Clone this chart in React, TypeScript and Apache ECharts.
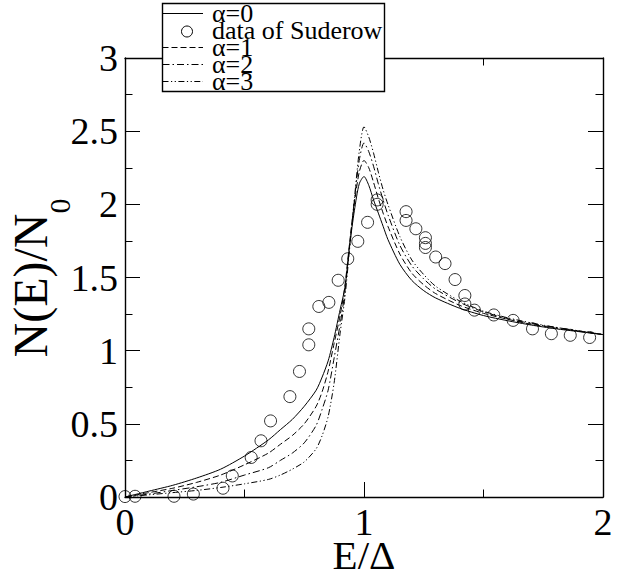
import React, { useEffect, useRef } from "react";
import * as echarts from "echarts";

const curveX = [0, 0.1, 0.2, 0.3, 0.4, 0.5, 0.6, 0.65, 0.7, 0.75, 0.8, 0.825, 0.85, 0.875, 0.9, 0.92, 0.94, 0.96, 0.98, 1.0, 1.02, 1.04, 1.06, 1.08, 1.1, 1.15, 1.2, 1.25, 1.3, 1.4, 1.5, 1.6, 1.7, 1.8, 1.9, 2.0];
const alpha0 = [0, 0.04, 0.08, 0.13, 0.19, 0.28, 0.39, 0.46, 0.53, 0.62, 0.73, 0.82, 0.93, 1.09, 1.28, 1.43, 1.72, 1.96, 2.14, 2.19, 2.13, 2.03, 1.94, 1.85, 1.76, 1.59, 1.48, 1.41, 1.36, 1.29, 1.24, 1.205, 1.175, 1.15, 1.13, 1.11];
const alpha1 = [0, 0.03, 0.06, 0.1, 0.15, 0.22, 0.3, 0.36, 0.42, 0.5, 0.62, 0.72, 0.86, 1.05, 1.24, 1.44, 1.74, 2.01, 2.22, 2.3, 2.25, 2.15, 2.04, 1.94, 1.85, 1.66, 1.53, 1.45, 1.39, 1.31, 1.255, 1.215, 1.18, 1.155, 1.132, 1.11];
const alpha2 = [0, 0.02, 0.045, 0.07, 0.1, 0.15, 0.2, 0.25, 0.3, 0.37, 0.49, 0.6, 0.73, 0.95, 1.18, 1.4, 1.72, 2.03, 2.3, 2.42, 2.36, 2.26, 2.14, 2.03, 1.93, 1.72, 1.58, 1.49, 1.42, 1.33, 1.265, 1.22, 1.185, 1.16, 1.135, 1.11];
const alpha3 = [0, 0.015, 0.03, 0.045, 0.065, 0.09, 0.12, 0.15, 0.19, 0.24, 0.33, 0.42, 0.55, 0.78, 1.12, 1.36, 1.7, 2.04, 2.36, 2.53, 2.46, 2.35, 2.22, 2.1, 2.0, 1.78, 1.62, 1.52, 1.44, 1.34, 1.27, 1.225, 1.19, 1.16, 1.135, 1.11];

const suderowX = [0, 0.042, 0.205, 0.286, 0.41, 0.449, 0.528, 0.569, 0.609, 0.69, 0.73, 0.769, 0.769, 0.811, 0.853, 0.892, 0.932, 0.974, 1.015, 1.055, 1.055, 1.176, 1.176, 1.217, 1.257, 1.257, 1.257, 1.3, 1.339, 1.381, 1.422, 1.422, 1.462, 1.543, 1.624, 1.705, 1.784, 1.863, 1.944];
const suderowY = [0.003, 0.005, 0.005, 0.02, 0.06, 0.144, 0.27, 0.384, 0.52, 0.686, 0.858, 1.04, 1.149, 1.302, 1.33, 1.481, 1.628, 1.747, 1.877, 2.0, 2.03, 1.89, 1.95, 1.833, 1.772, 1.733, 1.705, 1.64, 1.595, 1.486, 1.377, 1.319, 1.277, 1.244, 1.207, 1.149, 1.116, 1.105, 1.09];

const legendLabels = ["α=0", "data of Suderow", "α=1", "α=2", "α=3"];
const yTitleMain = "N(E)/N";
const yTitleSub = "0";
const xTitle = "E/Δ";

const FONT = '"Liberation Serif", "Times New Roman", serif';

const dashes: any = {
  solid: "solid",
  dashed: [6, 3],
  dashDot: [7, 3, 1.5, 3],
  dashDotDot: [6, 2.5, 1.2, 2.5, 1.2, 2.5],
};

function pairs(xs: number[], ys: number[]) {
  return xs.map((x, i) => [x, ys[i]]);
}

export default function App() {
  const ref = useRef<HTMLDivElement>(null);
  useEffect(() => {
    if (!ref.current) return;
    const chart = echarts.init(ref.current, null, { renderer: "svg" });
    const axisCommon = {
      axisLine: { show: true, onZero: false, lineStyle: { color: "#000", width: 1.4 } },
      axisTick: { show: true, inside: true, length: 15, lineStyle: { color: "#000", width: 1 } },
      minorTick: { show: true, splitNumber: 2, length: 7.5, lineStyle: { color: "#000", width: 1 } },
      splitLine: { show: false },
      minorSplitLine: { show: false },
    };
    const lineSeries = (name: string, ys: number[], type: any) => ({
      name,
      type: "line",
      xAxisIndex: 0,
      yAxisIndex: 0,
      data: pairs(curveX, ys),
      showSymbol: false,
      symbol: "none",
      smooth: 0.25,
      lineStyle: { color: "#000", width: 1, type },
      z: 3,
    });
    const legendX = 162.5;
    const legendRows = [13.5, 30.5, 47.5, 64.5, 81.5];
    const legendStyles = [dashes.solid, null, dashes.dashed, dashes.dashDot, dashes.dashDotDot];
    const legendChildren: any[] = [
      {
        type: "rect",
        shape: { x: legendX, y: 3.5, width: 222, height: 88 },
        style: { fill: "#fff", stroke: "#000", lineWidth: 1.4 },
        z: 100,
      },
    ];
    legendRows.forEach((ry, i) => {
      const st = legendStyles[i];
      if (st === null) {
        legendChildren.push({
          type: "circle",
          shape: { cx: 187, cy: ry + 1, r: 5.5 },
          style: { fill: "none", stroke: "#000", lineWidth: 1 },
          z: 101,
        });
      } else {
        legendChildren.push({
          type: "line",
          shape: { x1: legendX, y1: ry, x2: 203, y2: ry },
          style: { stroke: "#000", lineWidth: 1, lineDash: st === "solid" ? null : st },
          z: 101,
        });
      }
      legendChildren.push({
        type: "text",
        x: 212,
        y: ry,
        style: {
          text: legendLabels[i],
          font: `26px ${FONT}`,
          lineHeight: 16,
          fill: "#000",
          textAlign: "left",
          verticalAlign: "middle",
        },
        z: 102,
      });
    });

    const yTitle = {
      type: "group",
      x: 47,
      y: 278,
      rotation: Math.PI / 2,
      children: [
        {
          type: "text",
          x: -79.5,
          y: -16.2,
          style: { text: yTitleMain, font: `48px ${FONT}`, fill: "#000", textAlign: "left", verticalAlign: "middle" },
        },
        {
          type: "text",
          x: 64.5,
          y: 12.7,
          style: { text: yTitleSub, font: `30px ${FONT}`, fill: "#000", textAlign: "left", verticalAlign: "middle" },
        },
      ],
    };

    chart.setOption({
      animation: false,
      backgroundColor: "#fff",
      textStyle: { fontFamily: FONT },
      grid: { left: 125, right: 18, top: 58, bottom: 79, containLabel: false, outerBoundsMode: "none" },
      xAxis: [
        {
          type: "value",
          position: "bottom",
          min: 0,
          max: 2,
          interval: 1,
          ...axisCommon,
          axisLabel: { show: true, color: "#000", fontSize: 38, lineHeight: 30, fontFamily: FONT, margin: 10 },
          name: xTitle,
          nameLocation: "middle",
          nameGap: 41.5,
          nameMoveOverlap: false,
          nameTextStyle: { color: "#000", fontSize: 41, lineHeight: 32, fontFamily: FONT },
        },
        {
          type: "value",
          position: "top",
          min: 0,
          max: 2,
          interval: 1,
          ...axisCommon,
          axisLabel: { show: false },
        },
      ],
      yAxis: [
        {
          type: "value",
          position: "left",
          min: 0,
          max: 3,
          interval: 0.5,
          ...axisCommon,
          axisLabel: { show: true, color: "#000", fontSize: 38, fontFamily: FONT, margin: 7 },
        },
        {
          type: "value",
          position: "right",
          min: 0,
          max: 3,
          interval: 0.5,
          ...axisCommon,
          axisLabel: { show: false },
        },
      ],
      series: [
        lineSeries("α=0", alpha0, dashes.solid),
        {
          name: "data of Suderow",
          type: "scatter",
          xAxisIndex: 0,
          yAxisIndex: 0,
          data: pairs(suderowX, suderowY),
          symbol: "circle",
          symbolSize: 12,
          itemStyle: { color: "rgba(0,0,0,0)", borderColor: "#000", borderWidth: 1 },
          clip: false,
          z: 4,
        },
        lineSeries("α=1", alpha1, dashes.dashed),
        lineSeries("α=2", alpha2, dashes.dashDot),
        lineSeries("α=3", alpha3, dashes.dashDotDot),
      ],
      graphic: [
        { type: "group", z: 100, children: legendChildren },
        yTitle,
      ],
    });
    return () => chart.dispose();
  }, []);
  return (
    <div
      ref={ref}
      style={{ position: "fixed", left: 0, top: 0, width: 621, height: 576 }}
    />
  );
}
